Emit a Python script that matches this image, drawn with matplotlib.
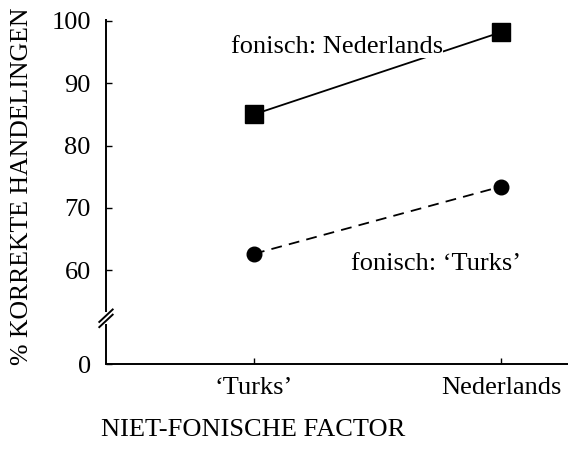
import matplotlib
matplotlib.use("Agg")
import matplotlib.pyplot as plt
import numpy as np

plt.rcParams['font.family'] = ['Liberation Serif', 'DejaVu Serif']
plt.rcParams['xtick.direction'] = 'in'
plt.rcParams['ytick.direction'] = 'in'

categories = ["\u2018Turks\u2019", "Nederlands"]
fonisch_nederlands = [85.0, 98.2]
fonisch_turks = [62.6, 73.4]
y_ticks = [0, 60, 70, 80, 90, 100]

# broken axis: 0..60 is squeezed into a short stretch below 60
LOW = 44.9


def forward(v):
    v = np.asarray(v, dtype=float)
    return np.where(v >= 60, v, LOW + v * (60 - LOW) / 60.0)


def inverse(u):
    u = np.asarray(u, dtype=float)
    return np.where(u >= 60, u, (u - LOW) * 60.0 / (60 - LOW))


fig = plt.figure(figsize=(5.68, 4.68), dpi=100)
ax = fig.add_axes([0.1866, 0.2222, 0.8134, 0.7372])
ax.set_yscale('function', functions=(forward, inverse))

x = np.arange(len(categories))
ax.plot(x, fonisch_nederlands, color='black', lw=1.3, marker='s', markersize=12.5, zorder=2)
ax.plot(x, fonisch_turks, color='black', lw=1.3, dashes=(6, 4), marker='o', markersize=10.5, zorder=2)

ax.text(0.335, 95.8, "fonisch: Nederlands", fontsize=19, ha='center', va='center',
        bbox=dict(facecolor='white', edgecolor='none', pad=0.0), zorder=3)
ax.text(0.735, 60.9, "fonisch: \u2018Turks\u2019", fontsize=19, ha='center', va='center', zorder=3)

ax.set_xlim(-0.599, 1.271)
ax.set_ylim(0, 100.32)
ax.set_xticks(x)
ax.set_xticklabels(categories, fontsize=19)
ax.set_yticks(y_ticks)
ax.set_yticklabels([str(t) for t in y_ticks], fontsize=19)
ax.tick_params(axis='both', direction='in', length=4.5, width=1.0, colors='black')
ax.tick_params(axis='y', pad=11)
ax.tick_params(axis='x', pad=9)

for side in ['top', 'right', 'left']:
    ax.spines[side].set_visible(False)
ax.spines['bottom'].set_linewidth(1.4)

# left axis drawn in two pieces with a break
kw = dict(transform=ax.transAxes, color='black', lw=1.4, clip_on=False, solid_capstyle='butt')
ax.plot([0, 0], [0, 0.115], **kw)
ax.plot([0, 0], [0.15, 1.0], **kw)
ax.plot([-0.016, 0.016], [0.105, 0.145], **kw)
ax.plot([-0.016, 0.016], [0.12, 0.16], **kw)

fig.text(0.039, 0.603, "% KORREKTE HANDELINGEN", rotation=90, fontsize=18.5, ha='center', va='center')
fig.text(0.445, 0.081, "NIET-FONISCHE FACTOR", fontsize=19, ha='center', va='center')

fig.savefig("out.png", dpi=100)
